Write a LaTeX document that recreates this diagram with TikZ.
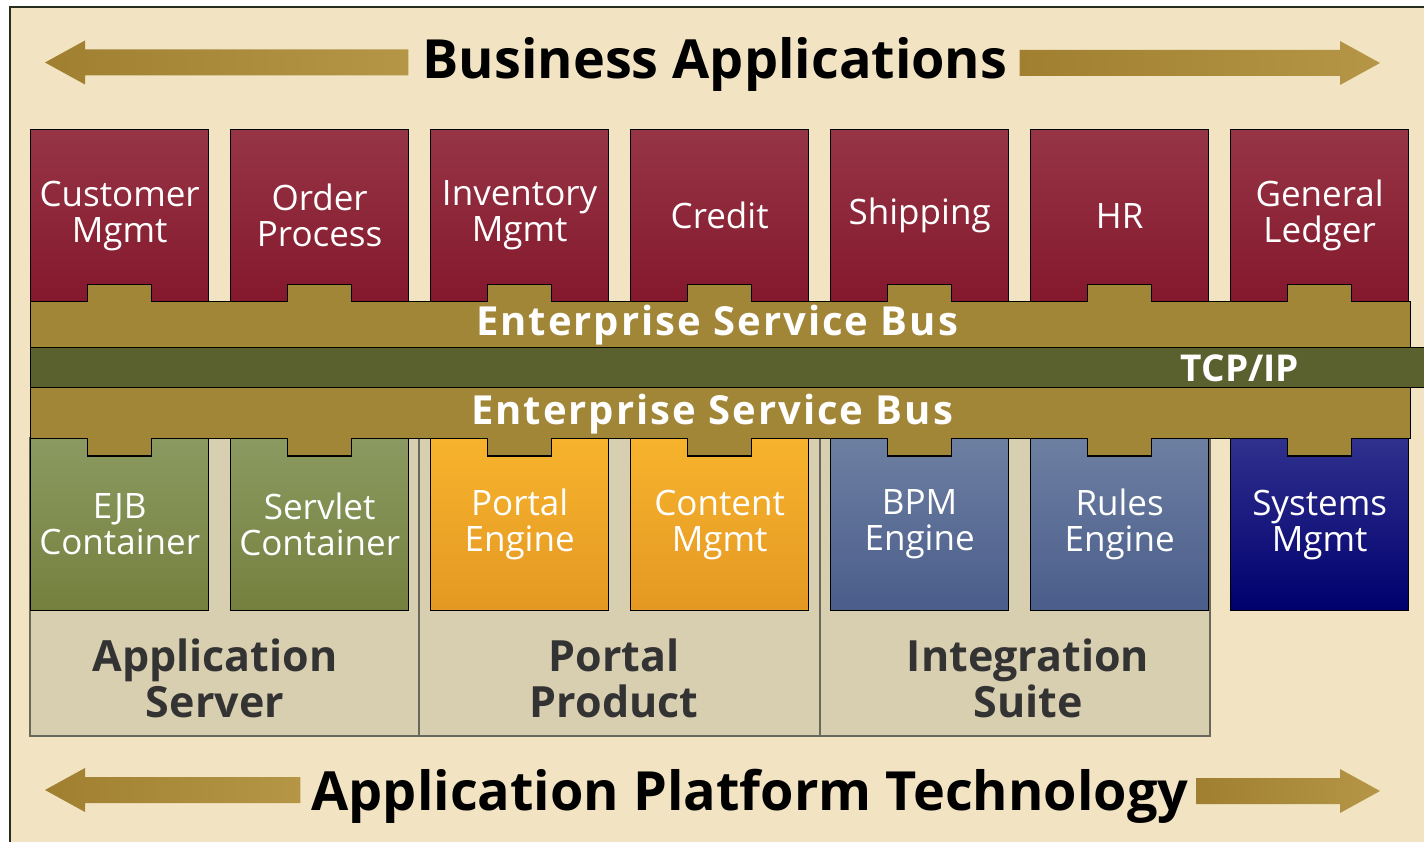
\documentclass[tikz,border=0pt]{standalone}
\usepackage{fontspec}
\setmainfont{Open Sans}
\usetikzlibrary{calc}

% page and bus colours
\definecolor{paper}{RGB}{242,228,194}
\definecolor{frameline}{RGB}{40,46,30}
\definecolor{busgold}{RGB}{162,134,56}
\definecolor{tcpgreen}{RGB}{90,96,46}
\definecolor{panelfill}{RGB}{216,206,176}
\definecolor{panelline}{RGB}{105,104,92}
\definecolor{labelgrey}{RGB}{51,51,51}
\definecolor{arrowdark}{RGB}{160,128,48}
\definecolor{arrowlight}{RGB}{180,150,70}
% box shadings, top and bottom
\definecolor{redtop}{RGB}{150,53,70}
\definecolor{redbot}{RGB}{132,24,44}
\definecolor{greentop}{RGB}{139,154,97}
\definecolor{greenbot}{RGB}{117,128,62}
\definecolor{orangetop}{RGB}{247,179,45}
\definecolor{orangebot}{RGB}{228,152,34}
\definecolor{bluetop}{RGB}{109,127,161}
\definecolor{bluebot}{RGB}{74,93,139}
\definecolor{navytop}{RGB}{48,48,142}
\definecolor{navybot}{RGB}{0,0,110}

\tikzset{
  % service boxes above and below the bus
  svc box/.style 2 args = {
    draw=black, line width=1.3pt,
    top color=#1, bottom color=#2,
    minimum width=178pt, minimum height=172pt,
    inner sep=0pt, anchor=north west,
    text=white, align=center,
    font=\fontsize{35}{36}\selectfont,
  },
  app box/.style     = {svc box={redtop}{redbot}},
  server box/.style  = {svc box={greentop}{greenbot}},
  portal box/.style  = {svc box={orangetop}{orangebot}},
  suite box/.style   = {svc box={bluetop}{bluebot}},
  mgmt box/.style    = {svc box={navytop}{navybot}},
  % bus bars
  bus/.style = {
    draw=black, line width=1.3pt, fill=busgold,
    inner sep=0pt, anchor=north west,
  },
  bus edge/.style = {draw=black, line width=1.3pt},
  bus label/.style = {
    text=white, inner sep=0pt, anchor=base,
    font=\fontsize{40}{40}\selectfont\bfseries\addfontfeature{LetterSpace=5},
  },
  % product panels
  panel/.style = {fill=panelfill, draw=panelline, line width=1.2pt},
  panel label/.style = {
    text=labelgrey, align=center,
    font=\fontsize{43}{46}\selectfont\bfseries,
  },
  % headings and their arrows
  heading/.style = {
    text=black, inner sep=0pt, anchor=base,
    font=\fontsize{54}{54}\selectfont\bfseries,
  },
  fat arrow/.style = {left color=arrowdark, right color=arrowlight},
}

% thick block arrow from #1 (tail) to #2 (tip), horizontal
\newcommand\fatarrow[2]{%
  \path[fat arrow] let \p1=(#1), \p2=(#2), \n1={(\x2>\x1) ? 1 : -1} in
    (\x1,\y2+13pt) -- (\x2-40pt*\n1,\y2+13pt) -- (\x2-40pt*\n1,\y2+22pt)
    -- (\x2,\y2) -- (\x2-40pt*\n1,\y2-22pt) -- (\x2-40pt*\n1,\y2-13pt)
    -- (\x1,\y2-13pt) -- cycle;
}

\begin{document}
\begin{tikzpicture}[x=1pt,y=-1pt]
  \useasboundingbox (0,0) rectangle (1424,842);
  \fill[white] (0,0) rectangle (1424,842);
  \fill[paper] (10,7) rectangle (1424,842);
  \draw[frameline, line width=1.5pt] (10,842) -- (10,7) -- (1424,7);

  % panels grouping the platform products
  \draw[panel] (30,438) rectangle (419,736);
  \draw[panel] (419,438) rectangle (820,736);
  \draw[panel] (820,438) rectangle (1210,736);

  % business applications
  \foreach \n/\txt [count=\i from 0] in {cust/{Customer\\Mgmt},
      order/{Order\\Process}, inv/{Inventory\\Mgmt}, credit/Credit,
      ship/Shipping, hr/HR, ledger/{General\\Ledger}}
    \node[app box] (\n) at (30+200*\i,129) {\txt};

  % platform services
  \foreach \n/\s/\txt [count=\i from 0] in {ejb/server box/{EJB\\Container},
      servlet/server box/{Servlet\\Container}, portal/portal box/{Portal\\Engine},
      content/portal box/{Content\\Mgmt}, bpm/suite box/{BPM\\Engine},
      rules/suite box/{Rules\\Engine}, sysmgmt/mgmt box/{Systems\\Mgmt}}
    \node[\s] (\n) at (30+200*\i,438) {\txt};

  % upper bus, tabs reaching up into the applications
  \node[bus, minimum width=1380pt, minimum height=46pt] (esbtop) at (30,301) {};
  \foreach \n in {cust,order,inv,credit,ship,hr,ledger} {
    \fill[busgold] ($(\n.south)+(-32,-18)$) rectangle ($(\n.south)+(32,1)$);
    \draw[bus edge] ($(\n.south)+(-32,0)$) -- ++(0,-18) -- ++(64,0) -- ++(0,18);
  }

  % lower bus, tabs reaching down into the services
  \node[bus, minimum width=1380pt, minimum height=51pt] (esbbot) at (30,387) {};
  \foreach \n in {ejb,servlet,portal,content,bpm,rules,sysmgmt} {
    \fill[busgold] ($(\n.north)+(-32,-1)$) rectangle ($(\n.north)+(32,18)$);
    \draw[bus edge] ($(\n.north)+(-32,0)$) -- ++(0,18) -- ++(64,0) -- ++(0,-18);
  }

  % network layer
  \node[bus, fill=tcpgreen, minimum width=1420pt, minimum height=40pt] (tcp) at (30,347) {};

  \node[bus label] (esbtoplbl) at (717,335) {Enterprise Service Bus};
  \node[bus label] (esbbotlbl) at (712,424) {Enterprise Service Bus};
  \node[bus label, font=\fontsize{37}{37}\selectfont\bfseries] (tcplbl) at (1240,381) {TCP/IP};

  \node[panel label] (appsrv) at (215,678) {Application\\Server};
  \node[panel label] (portalprod) at (614,678) {Portal\\Product};
  \node[panel label] (intsuite) at (1028,678) {Integration\\Suite};

  % headings
  \node[heading] (biz) at (715,79) {Business Applications};
  \node[heading] (platform) at (750,810) {Application Platform Technology};
  \coordinate (bizL) at (45,62.5);
  \coordinate (bizR) at (1380,63);
  \coordinate (platL) at (45,790);
  \coordinate (platR) at (1380,791);
  \fatarrow{[xshift=-14pt]biz.west}{bizL}
  \fatarrow{[xshift=12pt]biz.east}{bizR}
  \fatarrow{[xshift=-11pt]platform.west}{platL}
  \fatarrow{[xshift=8pt]platform.east}{platR}
\end{tikzpicture}
\end{document}
